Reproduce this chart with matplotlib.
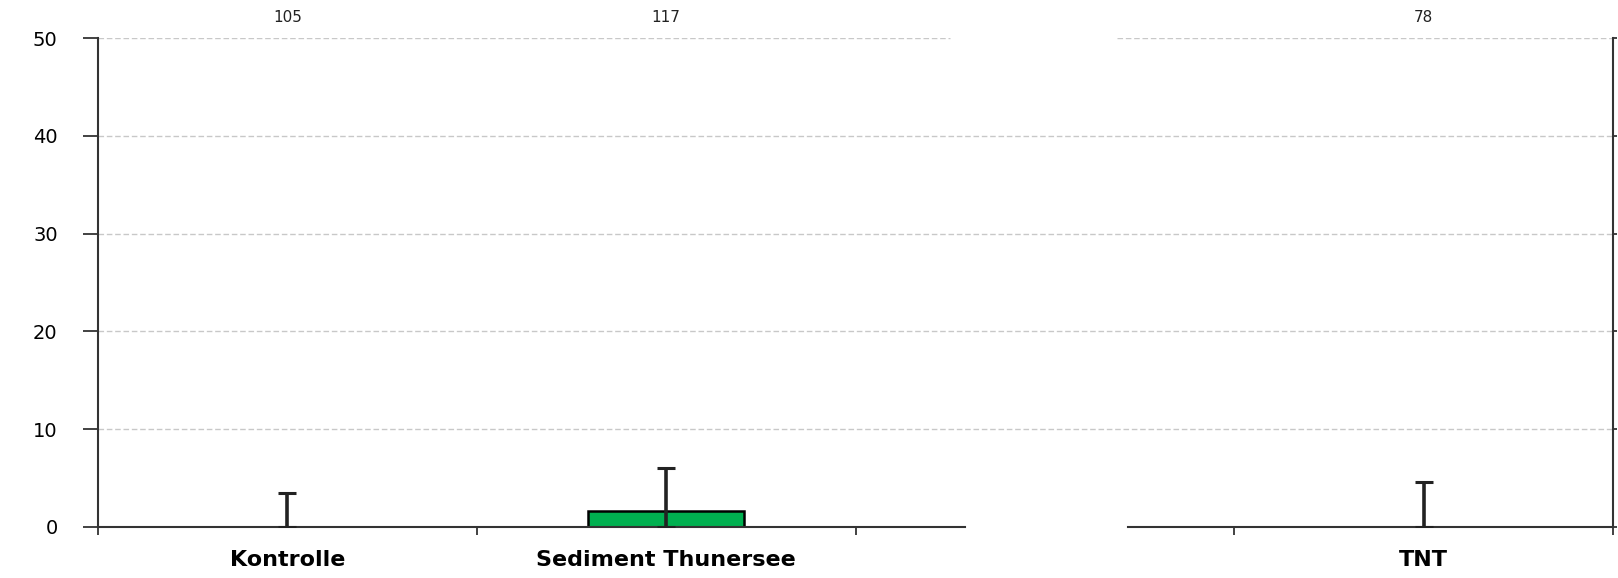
import numpy as np
import matplotlib
matplotlib.use('Agg')
import matplotlib.pyplot as plt

# Data
categories = ['Kontrolle', 'Sediment Thunersee', '', 'TNT']
means = [0.0, 1.6, np.nan, 0.0]          # bar heights
upper = [3.5, 6.0, np.nan, 4.6]          # top of the error bars
counts = ['105', '117', '', '78']        # n above each group
yticks = [0, 10, 20, 30, 40, 50]

plt.rcParams['font.family'] = ['DejaVu Sans']

fig = plt.figure(figsize=(16.18, 5.78), dpi=100)
ax = fig.add_axes([98/1618, 1 - 527/578, (1613 - 98)/1618, (527 - 38)/578])

x = np.arange(len(categories)) + 0.5
axis_col = '#333333'

# gridlines (top one has a gap like in the original rendering)
for yv in yticks[1:]:
    if yv == 50:
        ax.hlines(yv, 0, 2.25, colors='#c8c8c8', linestyles=(0, (4, 2)), lw=1, zorder=0)
        ax.hlines(yv, 2.69, 4, colors='#c8c8c8', linestyles=(0, (4, 2)), lw=1, zorder=0)
    else:
        ax.hlines(yv, 0, 4, colors='#c8c8c8', linestyles=(0, (4, 2)), lw=1, zorder=0)

# bars and error bars
for xi, m, u in zip(x, means, upper):
    if np.isnan(m):
        continue
    if m > 0:
        ax.bar(xi, m, width=0.41, color='#00b050', edgecolor='black', lw=1.8, zorder=2)
    ax.errorbar(xi, m, yerr=[[m], [u - m]], fmt='none', ecolor='#222222',
                elinewidth=2.6, capsize=6.5, capthick=2.2, zorder=5)

# n labels above the plot
for xi, c in zip(x, counts):
    if c:
        ax.annotate(c, (xi, 50), xytext=(0, 15), textcoords='offset points',
                    ha='center', va='center', fontsize=11, color='#222222')

# axes and ticks
ax.set_xlim(0, 4)
ax.set_ylim(0, 50)
ax.spines['top'].set_visible(False)
ax.spines['bottom'].set_visible(False)
for s in ['left', 'right']:
    ax.spines[s].set_color(axis_col)
    ax.spines[s].set_linewidth(1.5)
ax.plot([0, 2.29], [0, 0], color=axis_col, lw=1.5, clip_on=False, zorder=4)
ax.plot([2.72, 4], [0, 0], color=axis_col, lw=1.5, clip_on=False, zorder=4)

ax.set_yticks(yticks)
ax.set_yticklabels([str(v) for v in yticks], fontsize=14)
ax.tick_params(axis='y', direction='out', length=11, width=1.3, color=axis_col,
               pad=18, right=True, labelright=False)
for t in ax.yaxis.get_major_ticks():
    t.tick2line.set_markersize(3)

ax.set_xticks(x[[0, 1, 3]])
ax.set_xticklabels([categories[i] for i in [0, 1, 3]], fontsize=16, fontweight='bold')
ax.set_xticks(np.arange(0, 5), minor=True)
ax.tick_params(axis='x', which='major', length=0, pad=16.5)
ax.tick_params(axis='x', which='minor', direction='out', length=6, width=1.3, color=axis_col)

fig.savefig('out.png', dpi=100)
